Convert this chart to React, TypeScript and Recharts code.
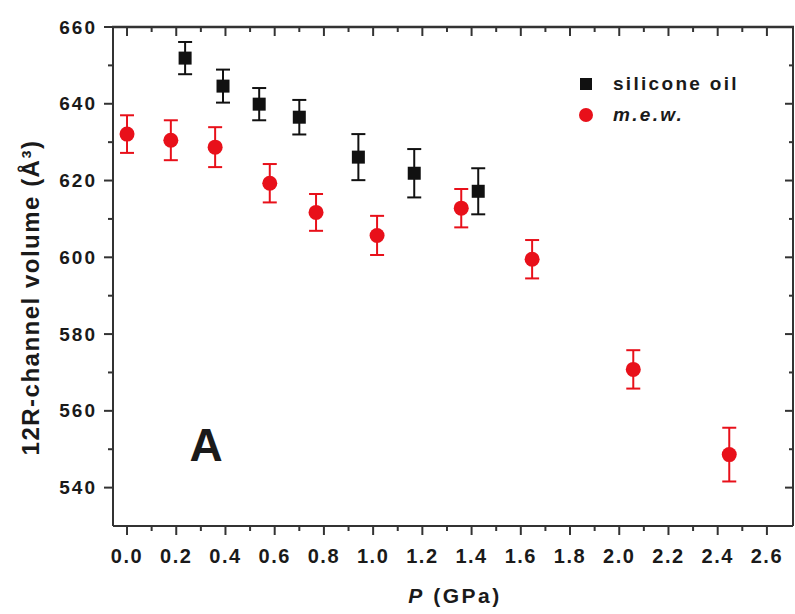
import React from 'react';
import { ScatterChart, Scatter, XAxis, YAxis, ErrorBar } from 'recharts';

// silicone oil (black squares)
const oilP = [0.236, 0.39, 0.537, 0.70, 0.94, 1.167, 1.427];
const oilV = [651.9, 644.6, 639.9, 636.5, 626.1, 621.9, 617.2];
const oilErr = [4.2, 4.3, 4.2, 4.5, 6.0, 6.3, 6.0];

// m.e.w. (red circles)
const mewP = [0.0, 0.178, 0.358, 0.58, 0.768, 1.016, 1.358, 1.646, 2.057, 2.447];
const mewV = [632.1, 630.5, 628.7, 619.3, 611.7, 605.7, 612.8, 599.5, 570.8, 548.6];
const mewErr = [4.9, 5.2, 5.2, 5.0, 4.8, 5.1, 5.0, 5.0, 5.0, 7.0];

const xMajor = [0, 0.2, 0.4, 0.6, 0.8, 1.0, 1.2, 1.4, 1.6, 1.8, 2.0, 2.2, 2.4, 2.6];
const xMinor = [0.1, 0.3, 0.5, 0.7, 0.9, 1.1, 1.3, 1.5, 1.7, 1.9, 2.1, 2.3, 2.5];
const yMajor = [540, 560, 580, 600, 620, 640, 660];
const yMinor = [550, 570, 590, 610, 630, 650];

const xDomain: [number, number] = [-0.057, 2.706];
const yDomain: [number, number] = [530, 660];

const seriesNames = ['silicone oil', 'm.e.w.'];
const seriesShapes = ['square', 'circle'];
const italicNames = ['m.e.w.'];

const BLACK = '#111111';
const RED = '#e8101a';
const seriesColors = [BLACK, RED];
const AXIS = '#333333';
const TEXT = '#1a1a1a';
const FONT = '"Liberation Sans", Arial, sans-serif';

// layout
const CHART_W = 795;
const CHART_H = 614;
const MARGIN = { top: 27, right: 1, left: 13, bottom: 28 };
const LEFT_AXIS_W = 100;
const RIGHT_AXIS_W = 1;
const BOTTOM_AXIS_H = 60;
const PLOT_LEFT = MARGIN.left + LEFT_AXIS_W;
const PLOT_W = CHART_W - MARGIN.left - MARGIN.right - LEFT_AXIS_W - RIGHT_AXIS_W;
const PLOT_H = CHART_H - MARGIN.top - MARGIN.bottom - BOTTOM_AXIS_H;

const oilData = oilP.map((p, i) => ({ x: p, y: oilV[i], err: oilErr[i] }));
const mewData = mewP.map((p, i) => ({ x: p, y: mewV[i], err: mewErr[i] }));

const xTicks = [...xMajor, ...xMinor].sort((a, b) => a - b);
const yTicks = [...yMajor, ...yMinor].sort((a, b) => a - b);

const isMajor = (list: number[], v: number) => list.some(m => Math.abs(m - v) < 1e-6);

// bottom ticks point out; the matching top-frame tick points down into the plot
const BottomTick = (props: any) => {
    const { x, y, payload } = props;
    const major = isMajor(xMajor, payload.value);
    const top = y - PLOT_H;
    return (
        <g>
            <line x1={x} x2={x} y1={y} y2={y + (major ? 9 : 5)} stroke={AXIS} strokeWidth={2} />
            <line x1={x} x2={x} y1={top} y2={top + (major ? 9 : 5)} stroke={AXIS} strokeWidth={2} />
            {major && (
                <text x={x} y={y + 37} textAnchor="middle" fontFamily={FONT} fontWeight="bold"
                    fontSize={20} letterSpacing={1.5} fill={TEXT}>
                    {payload.value.toFixed(1)}
                </text>
            )}
        </g>
    );
};

const LeftTick = (props: any) => {
    const { x, y, payload } = props;
    const major = isMajor(yMajor, payload.value);
    return (
        <g>
            <line x1={x - (major ? 9 : 5)} x2={x} y1={y} y2={y} stroke={AXIS} strokeWidth={2} />
            {major && (
                <text x={x - 16} y={y} textAnchor="end" dominantBaseline="central" fontFamily={FONT}
                    fontWeight="bold" fontSize={19} letterSpacing={2} fill={TEXT}>
                    {payload.value}
                </text>
            )}
        </g>
    );
};

// right frame ticks point left into the plot
const RightTick = (props: any) => {
    const { x, y, payload } = props;
    const major = isMajor(yMajor, payload.value);
    return <line x1={x - (major ? 8 : 4)} x2={x} y1={y} y2={y} stroke={AXIS} strokeWidth={2} />;
};

const YTitle = (props: any) => {
    const { viewBox } = props;
    const cx = viewBox.x + 17;
    const cy = viewBox.y + viewBox.height / 2 + 21;
    return (
        <text x={cx} y={cy} transform={`rotate(-90, ${cx}, ${cy})`} textAnchor="middle"
            dominantBaseline="central" fontFamily={FONT} fontWeight="bold" fontSize={24}
            letterSpacing={1.5} fill={TEXT}>
            12R-channel volume (Å³)
        </text>
    );
};

const XTitle = (props: any) => {
    const { viewBox } = props;
    const cx = viewBox.x + viewBox.width / 2 + 2;
    return (
        <text x={cx} y={viewBox.y + 77} textAnchor="middle" fontFamily={FONT} fontWeight="bold"
            fontSize={21} letterSpacing={2.5} fill={TEXT}>
            <tspan fontStyle="italic">P</tspan> (GPa)
        </text>
    );
};

const SquareShape = (props: any) => (
    <rect x={props.cx - 6.5} y={props.cy - 6.5} width={13} height={13} fill={BLACK} />
);

const CircleShape = (props: any) => <circle cx={props.cx} cy={props.cy} r={7.5} fill={RED} />;

const NoShape = () => <g />;

const ChartLegend = () => (
    <div style={{
        position: 'absolute', left: 578, top: 68, fontFamily: FONT, fontWeight: 'bold',
        fontSize: 19, letterSpacing: 2.3, color: TEXT
    }}>
        {seriesNames.map((name, i) => (
            <div key={name} style={{ display: 'flex', alignItems: 'center', height: 31 }}>
                <svg width={30} height={20}>
                    {seriesShapes[i] === 'square'
                        ? <rect x={2} y={4} width={12} height={12} fill={seriesColors[i]} />
                        : <circle cx={8} cy={10} r={7} fill={seriesColors[i]} />}
                </svg>
                <span style={{ marginLeft: 5, fontStyle: italicNames.includes(name) ? 'italic' : 'normal' }}>
                    {name}
                </span>
            </div>
        ))}
    </div>
);

export default function App() {
    return (
        <div style={{ position: 'absolute', left: 0, top: 0, width: CHART_W, height: CHART_H, background: '#fff' }}>
            <ScatterChart width={CHART_W} height={CHART_H} margin={MARGIN}>
                <XAxis
                    xAxisId="bottom"
                    type="number"
                    dataKey="x"
                    domain={xDomain}
                    allowDataOverflow
                    ticks={xTicks}
                    interval={0}
                    height={BOTTOM_AXIS_H}
                    tickSize={0}
                    tickMargin={0}
                    tickLine={false}
                    tick={<BottomTick />}
                    axisLine={{ stroke: AXIS, strokeWidth: 2 }}
                    label={<XTitle />}
                />
                <YAxis
                    yAxisId="left"
                    type="number"
                    dataKey="y"
                    domain={yDomain}
                    allowDataOverflow
                    ticks={yTicks}
                    interval={0}
                    width={LEFT_AXIS_W}
                    tickSize={0}
                    tickMargin={0}
                    tickLine={false}
                    tick={<LeftTick />}
                    axisLine={{ stroke: AXIS, strokeWidth: 2 }}
                    label={<YTitle />}
                />
                <YAxis
                    yAxisId="right"
                    orientation="right"
                    type="number"
                    dataKey="y"
                    domain={yDomain}
                    allowDataOverflow
                    ticks={yTicks}
                    interval={0}
                    width={RIGHT_AXIS_W}
                    tickSize={0}
                    tickMargin={0}
                    tickLine={false}
                    tick={<RightTick />}
                    axisLine={{ stroke: AXIS, strokeWidth: 2 }}
                />
                {/* invisible series so the mirrored right frame axis gets drawn */}
                <Scatter
                    name="frame"
                    data={mewData}
                    xAxisId="bottom"
                    yAxisId="right"
                    legendType="none"
                    shape={<NoShape />}
                    isAnimationActive={false}
                />
                <Scatter
                    name={seriesNames[0]}
                    data={oilData}
                    xAxisId="bottom"
                    yAxisId="left"
                    fill={BLACK}
                    shape={<SquareShape />}
                    isAnimationActive={false}
                >
                    <ErrorBar dataKey="err" direction="y" width={7} stroke={BLACK} strokeWidth={2} isAnimationActive={false} />
                </Scatter>
                <Scatter
                    name={seriesNames[1]}
                    data={mewData}
                    xAxisId="bottom"
                    yAxisId="left"
                    fill={RED}
                    shape={<CircleShape />}
                    isAnimationActive={false}
                >
                    <ErrorBar dataKey="err" direction="y" width={7} stroke={RED} strokeWidth={2} isAnimationActive={false} />
                </Scatter>
            </ScatterChart>
            {/* top frame line of the plot box, laid over the chart */}
            <svg
                width={CHART_W}
                height={CHART_H}
                style={{ position: 'absolute', left: 0, top: 0, zIndex: 10, pointerEvents: 'none' }}
            >
                <line x1={PLOT_LEFT - 1} x2={PLOT_LEFT + PLOT_W + 1} y1={MARGIN.top} y2={MARGIN.top}
                    stroke={AXIS} strokeWidth={2.5} />
            </svg>
            <ChartLegend />
            <div style={{
                position: 'absolute', left: 206, top: 468, transform: 'translate(-50%, -100%)',
                fontFamily: FONT, fontWeight: 'bold', fontSize: 46, lineHeight: '46px', color: TEXT
            }}>
                A
            </div>
        </div>
    );
}
